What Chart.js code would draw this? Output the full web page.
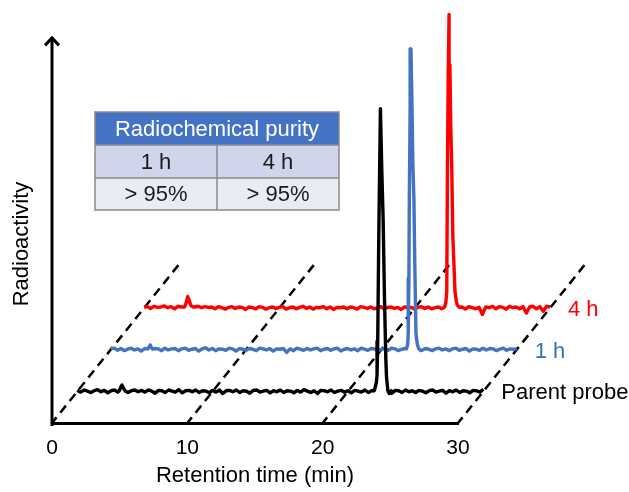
<!DOCTYPE html>
<html><head><meta charset="utf-8">
<script src="https://cdn.jsdelivr.net/npm/chart.js@4.4.1/dist/chart.umd.min.js"></script>
<style>html,body{margin:0;padding:0;background:#fff}#c{display:block}</style>
</head><body>
<canvas id="c" width="629" height="492"></canvas>
<script>
// ---------- data ----------
const xTicks = [0, 10, 20, 30];
const traceNames = ['Parent probe', '1 h', '4 h'];
const tableTitle = 'Radiochemical purity';
const tableTimes = ['1 h', '4 h'];
const tablePurity = ['> 95%', '> 95%'];

const timeGrid = [
 0,0.25,0.5,0.75,1,1.25,1.5,1.75,2,2.25,2.5,2.75,3,3.25,3.5,3.75,4,4.25,4.5,4.75,
 5,5.25,5.5,5.75,6,6.25,6.5,6.75,7,7.25,7.5,7.75,8,8.25,8.5,8.75,9,9.25,9.5,9.75,
 10,10.25,10.5,10.75,11,11.25,11.5,11.75,12,12.25,12.5,12.75,13,13.25,13.5,13.75,14,14.25,14.5,14.75,
 15,15.25,15.5,15.75,16,16.25,16.5,16.75,17,17.25,17.5,17.75,18,18.25,18.5,18.75,19,19.25,19.5,19.75,
 20,20.25,20.5,20.75,21,21.25,21.5,21.75,22,22.25,22.5,22.75,23,23.25,23.5,23.75,24,24.25,24.5,24.75,
 25,25.25,25.5,25.75,26,26.25,26.5,26.75,27,27.25,27.5,27.75,28,28.25,28.5,28.75,29,29.25,29.5,29.75,
 30];

const parentNoise = [
 0.3,-0.2,0.4,0.1,-0.3,0.2,0.5,-0.1,0.3,-0.4,0.2,0.4,-0.2,0,0,-0.3,0.2,0.4,-0.1,0.3,
 -0.2,0.4,0.1,-0.5,0.3,0.2,-0.3,0.4,0.1,-0.2,0.5,-0.4,0.2,0.3,-0.1,0.4,-0.3,0.2,0.1,-0.4,
 0.3,-0.2,0.4,-0.6,0.2,0.3,-0.1,0.4,-0.3,0.2,0.1,-0.5,0.3,0.4,-0.2,0.1,0.3,-0.4,0.2,-0.1,
 0.4,-0.3,0.2,0.1,-0.4,0.3,-0.2,0.5,0.1,-0.3,0.2,-0.6,0.3,0.2,-0.1,0.4,-0.3,0.1,0.3,-0.2,
 0.2,-0.4,0.3,0.1,-0.2,0.4,-0.3,0.2,0,0,0,0,0,-0.5,0.3,0.2,-0.3,0.4,-0.1,0.2,
 -0.3,0.3,0.1,-0.4,0.2,0.4,-0.2,0.1,0.3,-0.5,0.2,-0.1,0.4,-0.3,0.2,0.1,-0.4,0.3,0.2,-0.2,
 0.6];
const parentBumpT = [3.1,3.22,3.3,3.4,3.55];
const parentBumpV = [0.2,1.2,1.8,1.0,0.1];
const parentPeakT = [21.95,22.1,22.15,22.2,22.28,22.4,22.5,22.6,22.7,22.8,22.85,22.95,23.05,23.2];
const parentPeakV = [0.2,2.5,4.5,14,44,79,62,48,26,9,4,0.2,-0.6,0.2];

const h1Noise = [
 0.2,0.4,-0.2,0.3,-0.3,0.1,0.4,-0.1,0.2,-0.4,0.3,0,0,0.3,0.2,-0.3,0.4,-0.1,0.2,0.3,
 -0.3,0.2,0.4,-0.2,0.1,0.3,-0.4,0.2,0.5,-0.1,0.3,-0.3,0.2,0.1,-0.2,0.4,0.2,-0.4,0.3,0.1,
 -0.2,0.3,0.1,-0.3,0.4,0.2,-0.1,0.3,-0.4,0.2,0.1,0.3,-0.8,0.2,-0.3,0.4,0.1,-0.2,0.3,-0.1,
 0.2,0.4,-0.3,0.1,0.3,-0.2,0.2,0.4,-0.4,0.1,0.3,-0.1,0.2,-0.3,0.4,0.1,-0.2,0.3,0.2,-0.4,
 0.1,0.3,-0.2,0.4,0.2,-0.3,0.1,0.3,0,0,0,0,-0.2,0.3,0.1,-0.3,0.2,0.4,-0.1,0.2,
 -0.3,0.2,0.4,-0.2,0.1,0.3,-0.4,0.2,0.1,-0.2,0.4,-0.1,0.3,0.2,-0.3,0.1,0.4,-0.2,0.2,0.1,
 0.2];
const h1BumpT = [2.75,2.85,2.92,3.0,3.1];
const h1BumpV = [0.2,0.9,1.3,0.6,0.1];
const h1PeakT = [21.85,21.94,21.98,22.03,22.06,22.12,22.18,22.25,22.32,22.4,22.46,22.55,22.65,22.75,22.9];
const h1PeakV = [0.2,1.5,4.5,20,42,68,84,70,52,42,25,4.5,1.5,0.3,-0.3];

const h4Noise = [
 0.2,0.4,-0.1,0.5,0.2,0.3,0.6,0.1,0.4,-0.2,0.5,0.3,0,0,0,0.3,0.5,0.1,0.4,0.2,
 0.3,-0.2,0.4,0.1,-0.3,0.2,0.4,-0.1,0.3,0.2,-0.4,0.3,0.1,-0.2,0.4,0.2,-0.3,0.1,0.3,-0.1,
 0.2,0.4,-0.3,0.1,0.3,-0.2,0.2,0.5,-0.1,0.3,-0.3,0.2,0.1,0.4,-0.2,0.3,-0.4,0.2,0.1,0.3,
 -0.2,0.3,0.1,-0.3,0.4,0.2,-0.1,0.3,-0.2,0.1,0.4,-0.3,0.2,0.3,-0.1,0.2,-0.4,0.3,0.1,0.2,
 -0.3,0.2,0.4,-0.1,0.3,-0.2,0.1,0.3,-0.2,0,0,0,0,0,0.3,-0.3,0.4,0.1,-0.2,0.2,
 -1.8,0.3,0.1,0.5,-0.2,0.4,0.2,-0.3,0.5,0.1,0.3,-0.2,0.4,-1.4,0.3,0.5,-0.2,0.4,-0.9,0.5,
 0.3];
const h4BumpT = [3.0,3.12,3.22,3.32,3.45,3.6];
const h4BumpV = [0.3,1.5,3.2,2.4,0.8,0.3];
const h4PeakT = [22.2,22.3,22.37,22.42,22.48,22.54,22.6,22.67,22.74,22.82,22.98,23.08,23.15,23.3];
const h4PeakV = [0.2,1.5,4.5,39,66,82,68,50,39,20,4.5,1.8,0.8,0.2];

// ---------- layout / style constants ----------
const DEPTH_X = 9.34;      // pseudo-3D depth vector, x part (min)
const DEPTH_Y = 44.1;      // pseudo-3D depth vector, y part (signal units)
const traceDepth = [0.2, 0.465, 0.728];
const traceColors = ['#000000', '#4472C4', '#FF0000'];
const labelColors = ['#000000', '#2E75B6', '#FF0000'];
const Y_ARROW_TOP = 108;
const FONT = "'Liberation Sans', Arial, sans-serif";

function buildTrace(noise, events) {
  const pts = [];
  timeGrid.forEach((t, i) => {
    if (events.some(e => t >= e.t[0] && t <= e.t[e.t.length - 1])) return;
    pts.push([t, noise[i]]);
  });
  events.forEach(e => e.t.forEach((t, i) => pts.push([t, e.v[i]])));
  // descending order: the whole trace is drawn, also the part past the front axis end
  pts.sort((a, b) => b[0] - a[0]);
  return pts;
}

const traces = [
  buildTrace(parentNoise, [{t: parentBumpT, v: parentBumpV}, {t: parentPeakT, v: parentPeakV}]),
  buildTrace(h1Noise, [{t: h1BumpT, v: h1BumpV}, {t: h1PeakT, v: h1PeakV}]),
  buildTrace(h4Noise, [{t: h4BumpT, v: h4BumpV}, {t: h4PeakT, v: h4PeakV}])
];

const datasets = traces.map((pts, i) => ({
  label: traceNames[i],
  data: pts.map(([t, v]) => ({x: t + traceDepth[i] * DEPTH_X, y: v + traceDepth[i] * DEPTH_Y})),
  borderColor: traceColors[i],
  borderWidth: 3.4,
  pointRadius: 0,
  tension: 0,
  borderJoinStyle: 'round',
  clip: false
}));
xTicks.forEach(t => datasets.push({
  label: 'guide ' + t,
  data: [{x: t + DEPTH_X, y: DEPTH_Y}, {x: t, y: 0}],
  borderColor: '#000',
  borderWidth: 2.5,
  borderDash: [9, 6],
  pointRadius: 0,
  clip: false
}));

const overlay = {
  id: 'overlay',
  afterDraw(chart) {
    const {ctx, scales: {x, y}} = chart;
    ctx.save();
    // y axis with arrow
    const x0 = x.getPixelForValue(0);
    const yb = y.getPixelForValue(0);
    const yt = y.getPixelForValue(Y_ARROW_TOP);
    ctx.strokeStyle = '#000';
    ctx.lineWidth = 3;
    ctx.beginPath(); ctx.moveTo(x0, yb + 3); ctx.lineTo(x0, yt + 1); ctx.stroke();
    ctx.lineJoin = 'miter';
    ctx.beginPath(); ctx.moveTo(x0 - 7, yt + 9); ctx.lineTo(x0, yt + 1.5); ctx.lineTo(x0 + 7, yt + 9); ctx.stroke();

    // trace labels
    ctx.font = '22px ' + FONT;
    ctx.textBaseline = 'middle';
    ctx.textAlign = 'left';
    traceNames.forEach((name, i) => {
      const px = x.getPixelForValue(xTicks[xTicks.length - 1] + traceDepth[i] * DEPTH_X) + 18;
      const py = y.getPixelForValue(traceDepth[i] * DEPTH_Y) + 2;
      ctx.fillStyle = labelColors[i];
      ctx.fillText(name, px, py);
    });

    // purity table
    const L = 95, T = 112, W = 244, split = 217;
    const rows = [T, T + 33, T + 66, T + 98];
    ctx.fillStyle = '#4472C4'; ctx.fillRect(L, rows[0], W, rows[1] - rows[0]);
    ctx.fillStyle = '#CFD5EA'; ctx.fillRect(L, rows[1], W, rows[2] - rows[1]);
    ctx.fillStyle = '#E9EBF5'; ctx.fillRect(L, rows[2], W, rows[3] - rows[2]);
    ctx.strokeStyle = '#8A8A8A'; ctx.lineWidth = 1.5;
    ctx.strokeRect(L, rows[0], W, rows[3] - rows[0]);
    ctx.beginPath();
    ctx.moveTo(L, rows[1]); ctx.lineTo(L + W, rows[1]);
    ctx.moveTo(L, rows[2]); ctx.lineTo(L + W, rows[2]);
    ctx.moveTo(split, rows[1]); ctx.lineTo(split, rows[3]);
    ctx.stroke();
    ctx.textAlign = 'center';
    ctx.fillStyle = '#FFFFFF';
    ctx.fillText(tableTitle, L + W / 2, (rows[0] + rows[1]) / 2 + 1);
    ctx.fillStyle = '#1A1A1A';
    const cx = [(L + split) / 2, (split + L + W) / 2];
    tableTimes.forEach((s, i) => ctx.fillText(s, cx[i], (rows[1] + rows[2]) / 2 + 1));
    tablePurity.forEach((s, i) => ctx.fillText(s, cx[i], (rows[2] + rows[3]) / 2 + 1));
    ctx.restore();
  }
};

new Chart(document.getElementById('c').getContext('2d'), {
  type: 'line',
  data: {datasets},
  options: {
    responsive: false,
    animation: false,
    devicePixelRatio: 1,
    layout: {padding: {left: 8.8, right: 171, top: 65, bottom: 2.4}},
    plugins: {legend: {display: false}, tooltip: {enabled: false}},
    scales: {
      x: {
        type: 'linear', min: 0, max: 30,
        afterBuildTicks: s => { s.ticks = xTicks.map(v => ({value: v})); },
        ticks: {font: {family: FONT, size: 21}, color: '#000', padding: 13, maxRotation: 0, autoSkip: false},
        grid: {display: false, drawTicks: false},
        border: {display: true, width: 3, color: '#000'},
        title: {display: true, text: 'Retention time (min)', color: '#000',
                font: {family: FONT, size: 22}, padding: {top: -11, bottom: 0}}
      },
      y: {
        type: 'linear', min: 0, max: 100,
        ticks: {display: false},
        grid: {display: false, drawTicks: false},
        border: {display: false},
        title: {display: true, text: 'Radioactivity', color: '#000',
                font: {family: FONT, size: 22}, padding: {top: 0, bottom: 16.8}}
      }
    }
  },
  plugins: [overlay]
});
</script>
</body></html>
